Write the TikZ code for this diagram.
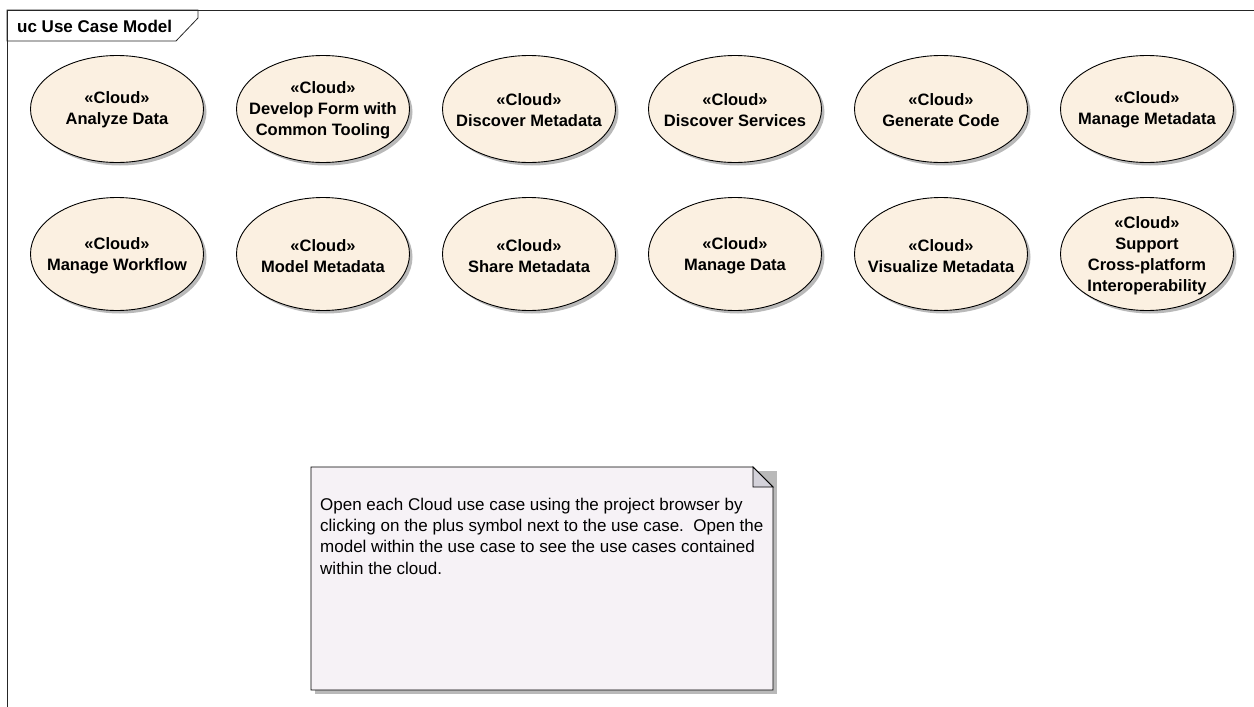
\documentclass[tikz,border=0pt]{standalone}
\usepackage{fontspec}
\setmainfont{Liberation Sans}
\usetikzlibrary{shapes.geometric,shadows}
\definecolor{ucfill}{RGB}{251,240,225}
\definecolor{notefill}{RGB}{246,242,246}
\definecolor{foldfill}{RGB}{212,210,218}
\definecolor{shadowgrey}{RGB}{185,185,185}
\tikzset{
  uc/.style={ellipse, draw=black, line width=0.9pt, fill=ucfill, inner sep=0pt,
    minimum width=173pt,
    drop shadow={shadow xshift=3pt, shadow yshift=-3pt, fill=shadowgrey, opacity=1}},
  ucrow1/.style={uc, minimum height=107pt},
  ucrow2/.style={uc, minimum height=113pt},
  uctext/.style={align=center, inner sep=0pt,
    font=\fontsize{16.5}{21}\selectfont\bfseries},
  framelin/.style={draw=black!85, line width=0.8pt},
  notetext/.style={anchor=north west, align=left, inner sep=0pt,
    font=\fontsize{17}{21.2}\selectfont}
}
\begin{document}
\begin{tikzpicture}[x=1pt,y=-1pt]
\useasboundingbox (0,0) rectangle (1254,707);
% frame
\draw[framelin] (1254,10) -- (7,10) -- (7,707);
\draw[framelin] (7,10) -- (198,10) -- (198,18) -- (176,41) -- (7,41) -- cycle;
\node[anchor=west, inner sep=0pt, font=\fontsize{17}{18}\selectfont\bfseries] (title) at (17,26) {uc Use Case Model};
% row 1
\node[ucrow1] (u1) at (117,109) {};
\node[ucrow1] (u2) at (323,109) {};
\node[ucrow1] (u3) at (529,109) {};
\node[ucrow1] (u4) at (735,109) {};
\node[ucrow1] (u5) at (941,109) {};
\node[ucrow1] (u6) at (1147,109) {};
\node[uctext] (u1t) at ([yshift=-1pt]u1.center) {«Cloud»\\Analyze Data};
\node[uctext] (u2t) at ([yshift=-1pt]u2.center) {«Cloud»\\Develop Form with\\Common Tooling};
\node[uctext] (u3t) at ([yshift=-1pt]u3.center) {«Cloud»\\Discover Metadata};
\node[uctext] (u4t) at ([yshift=-1pt]u4.center) {«Cloud»\\Discover Services};
\node[uctext] (u5t) at ([yshift=-1pt]u5.center) {«Cloud»\\Generate Code};
\node[uctext] (u6t) at ([yshift=-1pt]u6.center) {«Cloud»\\Manage Metadata};
% row 2
\node[ucrow2] (v1) at (117,254) {};
\node[ucrow2] (v2) at (323,254) {};
\node[ucrow2] (v3) at (529,254) {};
\node[ucrow2] (v4) at (735,254) {};
\node[ucrow2] (v5) at (941,254) {};
\node[ucrow2] (v6) at (1147,254) {};
\node[uctext] (v1t) at ([yshift=-2pt]v1.center) {«Cloud»\\Manage Workflow};
\node[uctext] (v2t) at ([yshift=-2pt]v2.center) {«Cloud»\\Model Metadata};
\node[uctext] (v3t) at ([yshift=-2pt]v3.center) {«Cloud»\\Share Metadata};
\node[uctext] (v4t) at ([yshift=-2pt]v4.center) {«Cloud»\\Manage Data};
\node[uctext] (v5t) at ([yshift=-2pt]v5.center) {«Cloud»\\Visualize Metadata};
\node[uctext] (v6t) at ([yshift=-2pt]v6.center) {«Cloud»\\Support\\Cross-platform\\Interoperability};
% note
\fill[shadowgrey] (315,471) -- (777,471) -- (777,694) -- (315,694) -- cycle;
\draw[line width=0.9pt, fill=notefill] (311,467) -- (753,467) -- (773,487) -- (773,690) -- (311,690) -- cycle;
\draw[line width=0.9pt, fill=foldfill] (753,467) -- (773,487) -- (753,487) -- cycle;
\node[notetext] (note) at (320,498) {Open each Cloud use case using the project browser by\\clicking on the plus symbol next to the use case.\ \ Open the\\model within the use case to see the use cases contained\\within the cloud.};
\end{tikzpicture}
\end{document}
